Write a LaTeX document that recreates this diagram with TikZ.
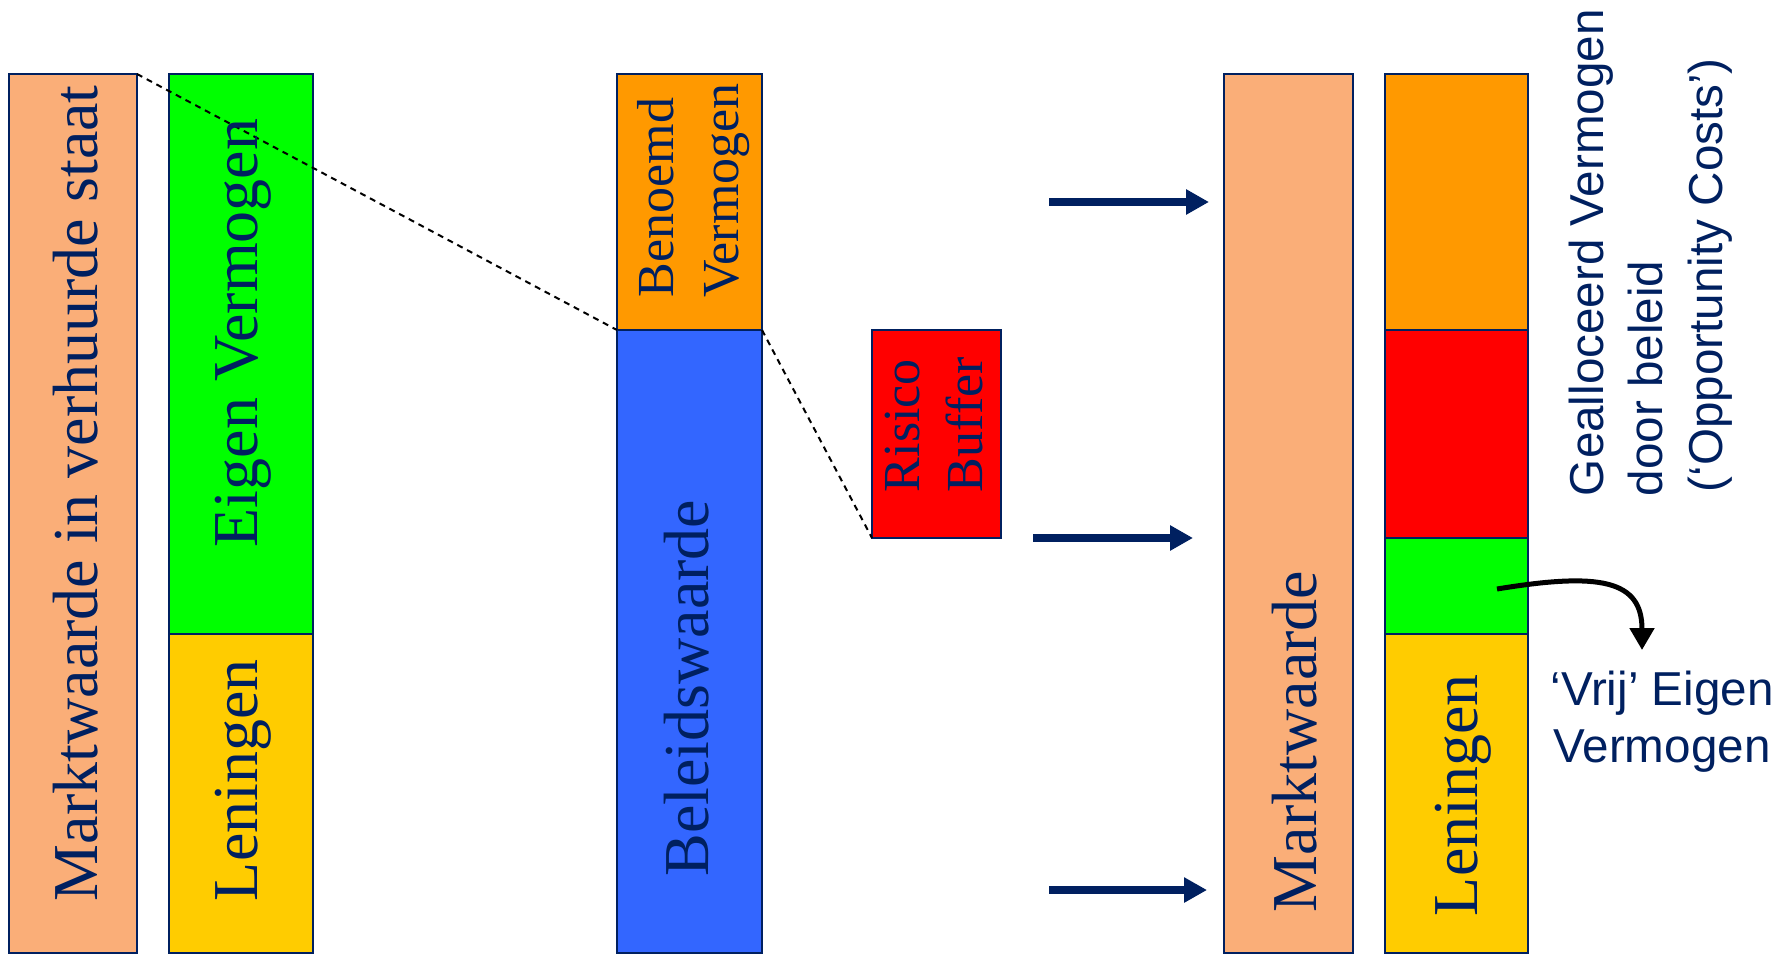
\documentclass[tikz,border=0pt]{standalone}
\usepackage{fontspec}
\setmainfont{Liberation Serif}
\setsansfont{Liberation Sans}
\usetikzlibrary{arrows.meta}

\definecolor{navy}{RGB}{0,32,96}
\definecolor{zalm}{RGB}{250,174,120}
\definecolor{groen}{RGB}{0,255,0}
\definecolor{geel}{RGB}{255,204,0}
\definecolor{oranje}{RGB}{255,153,0}
\definecolor{blauw}{RGB}{51,102,255}
\definecolor{rood}{RGB}{255,0,0}

\tikzset{every picture/.style={line width=1pt}}

\begin{document}
\begin{tikzpicture}[x=0.5pt,y=0.5pt,yscale=-1,xscale=1,
  blok/.style={draw=navy,line width=1pt},
  grote tekst/.style={rotate=90,anchor=base west,inner sep=0pt,text=navy,font=\fontsize{32}{38}\selectfont},
  kleine tekst/.style={rotate=90,anchor=base west,inner sep=0pt,text=navy,font=\fontsize{26}{31}\selectfont},
  zijtekst/.style={inner sep=0pt,text=navy,font=\sffamily\fontsize{23.8}{28}\selectfont},
  stippel/.style={dash pattern={on 3pt off 2.5pt},line width=1pt},
  pijl/.style={draw=navy,line width=4pt,-{Triangle[length=11.5pt,width=12pt]}}]
\useasboundingbox (0,0) rectangle (1786,954);

%Shape: Rectangle (marktwaarde verhuurd)
\draw [blok,fill=zalm] (9,74) rectangle (137,953);
%Shape: Rectangle (eigen vermogen)
\draw [blok,fill=groen] (169,74) rectangle (313,634);
%Shape: Rectangle (leningen)
\draw [blok,fill=geel] (169,634) rectangle (313,953);
%Shape: Rectangle (benoemd vermogen)
\draw [blok,fill=oranje] (617,74) rectangle (762,330);
%Shape: Rectangle (beleidswaarde)
\draw [blok,fill=blauw] (617,330) rectangle (762,953);
%Shape: Rectangle (risico buffer)
\draw [blok,fill=rood] (872,330) rectangle (1001,538);
%Shape: Rectangle (marktwaarde)
\draw [blok,fill=zalm] (1224,74) rectangle (1353,953);
%Shape: Rectangle stack right
\draw [blok,fill=oranje] (1385,74) rectangle (1528,330);
\draw [blok,fill=rood] (1385,330) rectangle (1528,538);
\draw [blok,fill=groen] (1385,538) rectangle (1528,634);
\draw [blok,fill=geel] (1385,634) rectangle (1528,953);

%corner points
\coordinate (mv-ne) at (137,74);
\coordinate (bw-nw) at (617,330);
\coordinate (bw-ne) at (762,330);
\coordinate (rb-sw) at (872,538);

%Straight Lines dashed
\draw [stippel] (mv-ne) -- (bw-nw);
\draw [stippel] (bw-ne) -- (rb-sw);

%arrow ends
\coordinate (p1a) at (1049,202);
\coordinate (p1b) at (1209,202);
\coordinate (p2a) at (1033,538);
\coordinate (p2b) at (1193,538);
\coordinate (p3a) at (1049,890);
\coordinate (p3b) at (1207,890);

%Straight Lines arrows
\draw [pijl] (p1a) -- (p1b);
\draw [pijl] (p2a) -- (p2b);
\draw [pijl] (p3a) -- (p3b);

%Curve Lines
\coordinate (vrij-a) at (1497,589);
\coordinate (vrij-b) at (1642,650);
\draw [line width=2.5pt,-{Triangle[length=11pt,width=12pt]}] (vrij-a) .. controls (1600,572) and (1642,580) .. (vrij-b);

% Text Node
\node [grote tekst] (t-mvs) at (97,902) {Marktwaarde in verhuurde staat};
% Text Node
\node [grote tekst,anchor=base] (t-ev) at (257,333) {Eigen Vermogen};
% Text Node
\node [grote tekst] (t-len1) at (257,902) {Leningen};
% Text Node
\node [grote tekst,anchor=base] (t-bw) at (708,688) {Beleidswaarde};
% Text Node
\node [grote tekst] (t-mw) at (1316,913) {Marktwaarde};
% Text Node
\node [grote tekst] (t-len2) at (1477,917) {Leningen};
% Text Node
\node [kleine tekst] (t-ben) at (673,298) {Benoemd};
\node [kleine tekst] (t-verm) at (738,298) {Vermogen};
% Text Node
\node [kleine tekst] (t-ris) at (919,493) {Risico};
\node [kleine tekst] (t-buf) at (982,493) {Buffer};
% Text Node
\node [zijtekst,rotate=90,anchor=base west] (t-gea) at (1603,497) {Gealloceerd Vermogen};
\node [zijtekst,rotate=90,anchor=base west] (t-door) at (1662,497) {door beleid};
\node [zijtekst,rotate=90,anchor=base west] (t-opp) at (1722,493) {(‘Opportunity Costs’)};
% Text Node
\node [zijtekst,anchor=base] (t-vrij) at (1662,705) {‘Vrij’ Eigen};
\node [zijtekst,anchor=base] (t-vrij2) at (1662,762) {Vermogen};

\end{tikzpicture}
\end{document}
